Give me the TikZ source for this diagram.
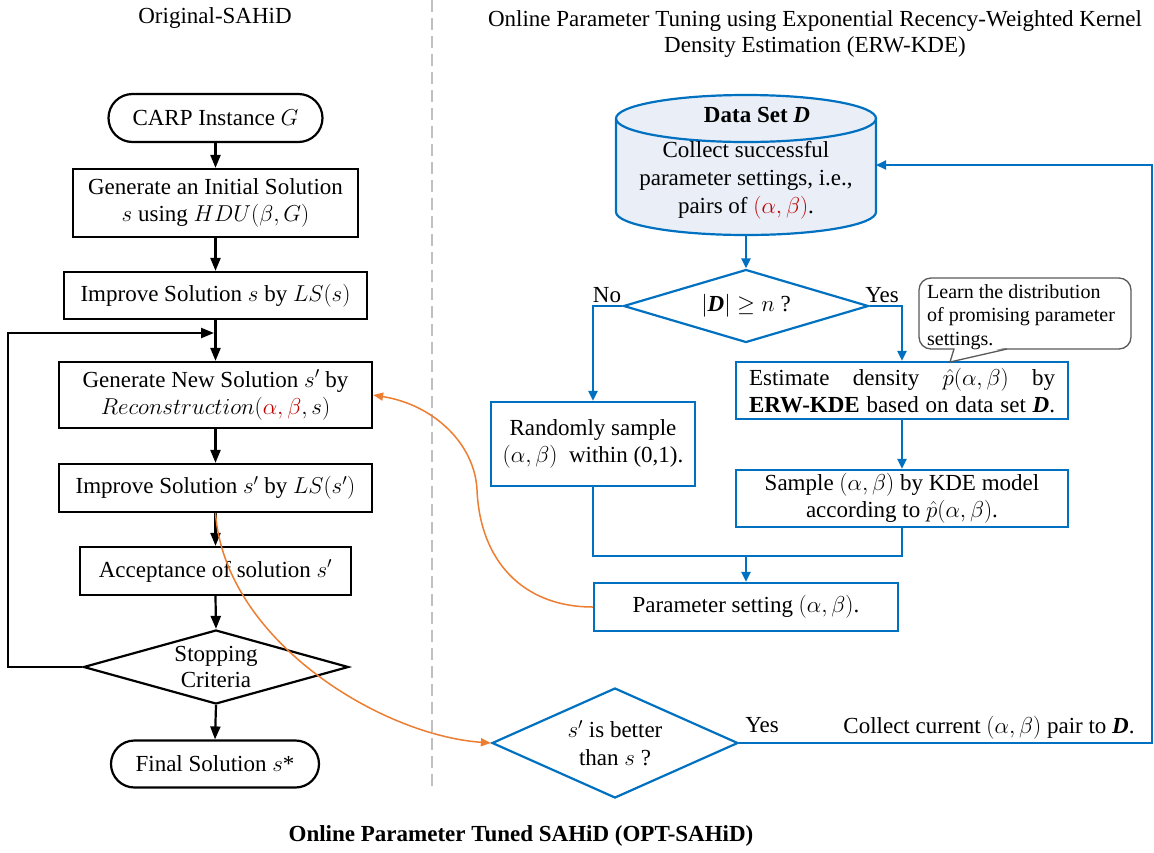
\RequirePackage{fix-cm}
\documentclass[tikz,border=0pt]{standalone}
\usepackage{fontspec}
\setmainfont{Liberation Serif}
\usetikzlibrary{shapes.geometric,arrows.meta}
\definecolor{myblue}{HTML}{0070C0}
\definecolor{myred}{HTML}{C00000}
\definecolor{myorange}{HTML}{ED7D31}
\definecolor{cylfill}{HTML}{E9EEF7}
\definecolor{dashgray}{HTML}{C0C0C0}
\definecolor{callgray}{HTML}{595959}
\tikzset{
  txt/.style={font=\fontsize{23}{27}\selectfont, inner sep=0pt, align=center},
  kbox/.style={txt, draw=black, line width=2.2pt, fill=white},
  kterm/.style={kbox, rounded corners=24pt},
  bbox/.style={txt, draw=myblue, line width=2.2pt, fill=white},
  kdia/.style={diamond, draw=black, line width=2.2pt, inner sep=0pt},
  bdia/.style={diamond, draw=myblue, line width=2.2pt, inner sep=0pt},
  karrow/.style={draw=black, line width=2.2pt, -{Triangle[length=13pt,width=10pt]}},
  barrow/.style={draw=myblue, line width=2.2pt, -{Triangle[length=10pt,width=9pt]}},
  bline/.style={draw=myblue, line width=2.2pt},
  oarrow/.style={draw=myorange, line width=1.5pt, -{Triangle[length=10pt,width=8pt]}},
}
\begin{document}
\begin{tikzpicture}[x=1pt,y=-1pt]
\useasboundingbox (0,0) rectangle (1154,852);

% titles and separator
\node[txt] (t1) at (215,18) {Original-SAHiD};
\node[txt, font=\fontsize{23}{26}\selectfont] (t2) at (815,34) {Online Parameter Tuning using Exponential Recency-Weighted Kernel\\Density Estimation (ERW-KDE)};
\node[txt, font=\fontsize{23}{27}\selectfont\bfseries] (t3) at (521,836) {Online Parameter Tuned SAHiD (OPT-SAHiD)};
\coordinate (dtop) at (432,0);
\coordinate (dbot) at (432,792);
\draw[dashgray, line width=2.5pt, dash pattern=on 12pt off 6pt] (dtop) -- (dbot);

% left column
\node[kterm, minimum width=214pt, minimum height=48pt] (carp) at (215.5,118) {CARP Instance $G$};
\node[kbox, minimum width=285pt, minimum height=68pt] (init) at (215.5,203) {Generate an Initial Solution\\$s$ using $HDU(\beta,G)$};
\node[kbox, minimum width=303pt, minimum height=47pt] (imp) at (215.5,295.5) {Improve Solution $s$ by $LS(s)$};
\node[kbox, minimum width=313pt, minimum height=66pt] (gen) at (215.5,395) {Generate New Solution $s'$ by\\$Reconstruction(\textcolor{myred}{\alpha,\beta},s)$};
\node[kbox, minimum width=313pt, minimum height=48pt] (imp2) at (215.5,488) {Improve Solution $s'$ by $LS(s')$};
\node[kbox, minimum width=271pt, minimum height=48pt] (acc) at (215.5,571) {Acceptance of solution $s'$};
\node[kdia, minimum width=265pt, minimum height=74pt] (stop) at (216,667) {};
\node[txt, font=\fontsize{23}{26}\selectfont] (stoptxt) at (stop.center) {Stopping\\Criteria};
\node[kterm, minimum width=208pt, minimum height=47pt, rounded corners=23.5pt] (final) at (215,764) {Final Solution $s$*};

\draw[karrow] (carp.south) -- (init.north);
\draw[karrow] (init.south) -- (imp.north);
\draw[karrow] (imp.south) -- (gen.north);
\draw[karrow] (gen.south) -- (imp2.north);
\draw[karrow] (imp2.south) -- (acc.north);
\draw[karrow] (acc.south) -- (stop.north);
\draw[karrow] (stop.south) -- (final.north);
\coordinate (loopL) at (8,333);
\coordinate (loopR) at (214,333);
\draw[karrow] (stop.west) -| (loopL) -- (loopR);

% cylinder
\filldraw[fill=cylfill, draw=myblue, line width=2.2pt]
  (616,118.5) -- (616,212) .. controls (616,224.7) and (674.2,235) .. (746,235)
  .. controls (817.8,235) and (876,224.7) .. (876,212) -- (876,118.5)
  .. controls (876,105.5) and (817.8,95) .. (746,95)
  .. controls (674.2,95) and (616,105.5) .. (616,118.5) -- cycle;
\draw[myblue, line width=2.2pt] (616,118.5) .. controls (616,131.5) and (674.2,142) .. (746,142)
  .. controls (817.8,142) and (876,131.5) .. (876,118.5);
\node[txt] (dstitle) at (757,115) {\textbf{Data Set \textit{D}}};
\node[txt, font=\fontsize{23}{28}\selectfont] (dstext) at (746,180) {Collect successful\\parameter settings, i.e.,\\pairs of \textcolor{myred}{$(\alpha,\beta)$}.};
\coordinate (cylbot) at (746,235);
\coordinate (cylright) at (876,165);

% right column
\node[bdia, minimum width=245pt, minimum height=73pt] (dd) at (746,306) {};
\node[txt] (ddtxt) at (dd.center) {$|$\textbf{\textit{D}}$|\geq n$ ?};
\node[bbox, minimum width=204pt, minimum height=84pt] (rand) at (593,444) {Randomly sample\\$(\alpha,\beta)$\ \ within (0,1).};
\node[bbox, minimum width=332pt, minimum height=57pt] (est) at (902,390.5) {\makebox[306pt][s]{Estimate density $\hat{p}(\alpha,\beta)$ by}\\\makebox[306pt][s]{\textbf{ERW-KDE} based on data set \textbf{\textit{D}}.}};
\node[bbox, minimum width=332pt, minimum height=57pt] (samp) at (902,498.5) {Sample $(\alpha,\beta)$ by KDE model\\according to $\hat{p}(\alpha,\beta)$.};
\node[bbox, minimum width=304pt, minimum height=48pt] (param) at (746,607) {Parameter setting $(\alpha,\beta)$.};
\node[bdia, minimum width=246pt, minimum height=110pt] (better) at (615,743) {};
\node[txt, font=\fontsize{23}{28}\selectfont] (bettertxt) at (better.center) {$s'$ is better\\than $s$ ?};

% callout
\node[draw=callgray, line width=1.3pt, rounded corners=12pt, minimum width=212pt, minimum height=71pt, fill=white, inner sep=0pt] (call) at (1025,313.5) {};
\fill[white] (955,347.4) -- (1006,347.4) -- (950.5,361) -- cycle;
\draw[callgray, line width=1.3pt] (954,349) -- (950,362) -- (1007,349);
\node[txt, font=\fontsize{20}{23.5}\selectfont, align=left, anchor=west] (calltxt) at (927,317) {Learn the distribution\\of promising parameter\\settings.};

\node[txt, anchor=base] (no) at (607,302) {No};
\node[txt, anchor=base] (yes1) at (882,302) {Yes};
\node[txt, anchor=base] (yes2) at (762,732) {Yes};
\node[txt, anchor=base] (collect) at (989,733) {Collect current $(\alpha,\beta)$ pair to \textbf{\textit{D}}.};

\draw[barrow] (cylbot) -- (dd.north);
\draw[barrow] (dd.west) -| (rand.north);
\draw[barrow] (dd.east) -| (est.north);
\draw[barrow] (est.south) -- (samp.north);
\coordinate (j) at (746,556);
\draw[bline] (rand.south) |- (j) -| (samp.south);
\draw[barrow] (j) -- (param.north);
\coordinate (rc1) at (1152,743);
\coordinate (rc2) at (1152,165);
\draw[barrow] (better.east) -- (rc1) -- (rc2) -- (cylright);

% orange feedback curves
\draw[oarrow] (imp2.south) .. controls (225,640) and (380,735) .. (better.west);
\draw[oarrow] (param.west) .. controls (522,607) and (480,560) .. (477,490)
  .. controls (475,445) and (435,405) .. (gen.east);
\end{tikzpicture}
\end{document}
